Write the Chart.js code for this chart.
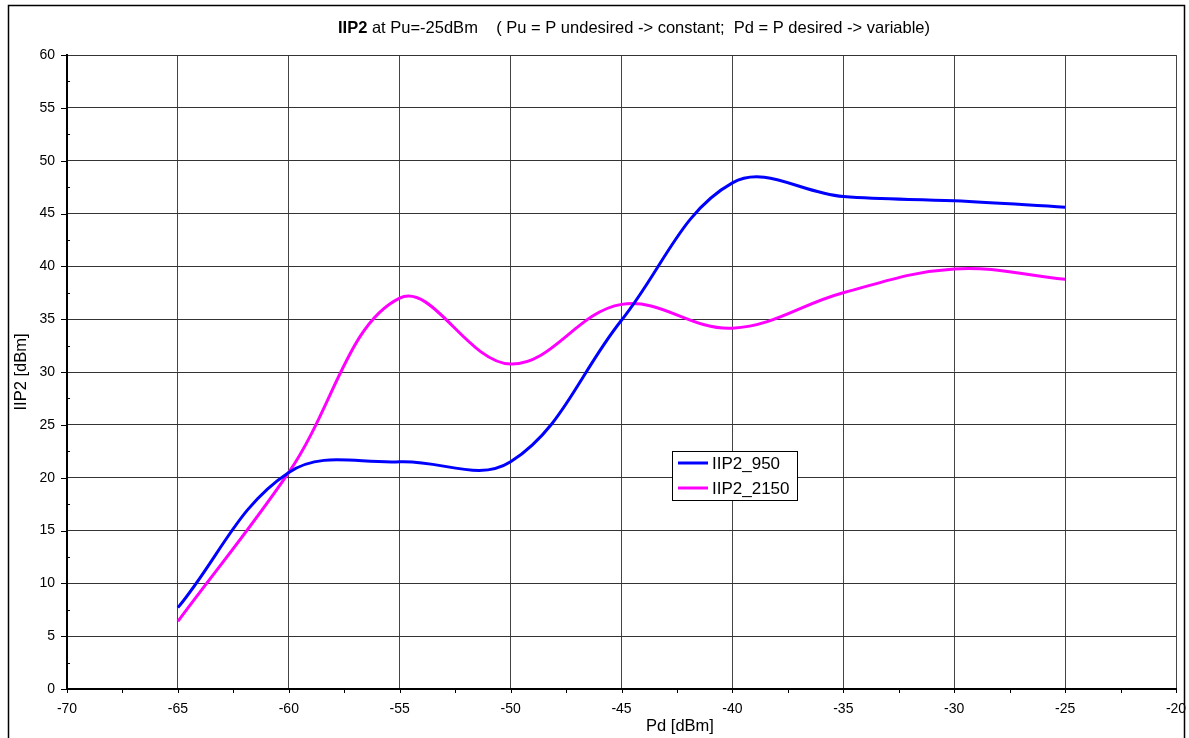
<!DOCTYPE html>
<html>
<head>
<meta charset="utf-8">
<script src="https://cdn.jsdelivr.net/npm/chart.js@4.4.1/dist/chart.umd.min.js"></script>
<style>
  html, body { margin: 0; padding: 0; background: #fff; }
  #wrap { position: relative; width: 1189px; height: 738px; }
</style>
</head>
<body>
<div id="wrap"><canvas id="c" width="1189" height="738"></canvas></div>
<script>
// ---- data ----
const pd = [-65, -60, -55, -50, -45, -40, -35, -30, -25];
const iip2_950  = [7.7, 20.5, 21.5, 21.5, 34.9, 47.9, 46.6, 46.2, 45.6];
const iip2_2150 = [6.4, 20.5, 37.0, 30.75, 36.4, 34.15, 37.5, 39.75, 38.77];
const seriesNames = ['IIP2_950', 'IIP2_2150'];
const seriesColors = ['#0000FF', '#FF00FF'];
const xTickMin = -70, xTickMax = -20, xStep = 5;
const yTickMin = 0, yTickMax = 60, yStep = 5;
const titleBold = 'IIP2';
const titleRest = ' at Pu=-25dBm    ( Pu = P undesired -> constant;  Pd = P desired -> variable)';
const xTitle = 'Pd [dBm]';
const yTitle = 'IIP2 [dBm]';

const FONT = '"Liberation Sans", Arial, sans-serif';

function toPoints(xs, ys) { return xs.map((x, i) => ({ x: x, y: ys[i] })); }

const decorPlugin = {
  id: 'decor',
  beforeDraw(chart) {
    const ctx = chart.ctx;
    ctx.save();
    ctx.fillStyle = '#fff';
    ctx.fillRect(0, 0, chart.width, chart.height);
    ctx.restore();
  },
  afterDraw(chart) {
    const ctx = chart.ctx;
    const xs = chart.scales.x, ys = chart.scales.y;
    const area = chart.chartArea;
    ctx.save();
    // minor & major tick marks
    ctx.strokeStyle = '#000';
    ctx.lineWidth = 1;
    for (let v = xTickMin; v <= xTickMax + 1e-9; v += xStep / 2) {
      const px = Math.round(xs.getPixelForValue(v)) + 0.5;
      ctx.beginPath(); ctx.moveTo(px, area.bottom); ctx.lineTo(px, area.bottom + 4); ctx.stroke();
    }
    for (let v = yTickMin; v <= yTickMax + 1e-9; v += yStep / 2) {
      const py = Math.round(ys.getPixelForValue(v)) + 0.5;
      const major = Math.abs(v / yStep - Math.round(v / yStep)) < 1e-9;
      ctx.beginPath(); ctx.moveTo(area.left - (major ? 6 : 0), py); ctx.lineTo(area.left + (major ? 0 : 3), py); ctx.stroke();
    }
    // title
    ctx.fillStyle = '#000';
    ctx.textBaseline = 'alphabetic';
    ctx.textAlign = 'left';
    ctx.font = 'bold 16.5px ' + FONT;
    const bw = ctx.measureText(titleBold).width;
    ctx.fillText(titleBold, 338, 33);
    ctx.font = '16.5px ' + FONT;
    ctx.fillText(titleRest, 338 + bw, 33);
    // axis titles
    ctx.textAlign = 'center';
    ctx.textBaseline = 'middle';
    ctx.font = '16.5px ' + FONT;
    ctx.fillText(xTitle, 680, 726);
    ctx.save();
    ctx.translate(21, 372);
    ctx.rotate(-Math.PI / 2);
    ctx.fillText(yTitle, 0, 0);
    ctx.restore();
    // legend
    const lx = 672.5, ly = 451.5, lw = 125, lh = 49;
    ctx.fillStyle = '#fff';
    ctx.fillRect(lx, ly, lw, lh);
    ctx.strokeStyle = '#000';
    ctx.lineWidth = 1;
    ctx.strokeRect(lx, ly, lw, lh);
    chart.data.datasets.forEach((ds, i) => {
      const yy = 463 + i * 25;
      ctx.strokeStyle = ds.borderColor;
      ctx.lineWidth = 3;
      ctx.beginPath(); ctx.moveTo(678, yy); ctx.lineTo(708, yy); ctx.stroke();
      ctx.fillStyle = '#000';
      ctx.textAlign = 'left';
      ctx.textBaseline = 'middle';
      ctx.font = '17px ' + FONT;
      ctx.fillText(ds.label, 712, yy + 1);
    });
    // outer frame
    ctx.strokeStyle = '#000';
    ctx.lineWidth = 1.5;
    ctx.strokeRect(8.5, 5.5, 1176, 800);
    ctx.restore();
  }
};

new Chart(document.getElementById('c'), {
  type: 'line',
  data: {
    datasets: [
      { label: seriesNames[0], data: toPoints(pd, iip2_950), borderColor: seriesColors[0], backgroundColor: seriesColors[0],
        borderWidth: 3, pointRadius: 0, tension: 0.38, fill: false },
      { label: seriesNames[1], data: toPoints(pd, iip2_2150), borderColor: seriesColors[1], backgroundColor: seriesColors[1],
        borderWidth: 3, pointRadius: 0, tension: 0.38, fill: false }
    ]
  },
  options: {
    responsive: false,
    animation: false,
    events: [],
    layout: { padding: { left: 0, top: 55, right: 13, bottom: 0 } },
    plugins: { legend: { display: false }, title: { display: false }, tooltip: { enabled: false } },
    scales: {
      x: {
        type: 'linear', min: xTickMin, max: xTickMax,
        ticks: { stepSize: xStep, color: '#000', font: { family: FONT, size: 14 }, padding: 12, maxRotation: 0, autoSkip: false },
        grid: { color: '#444', lineWidth: 1, drawTicks: false },
        border: { color: '#000', width: 2 },
        afterFit(scale) { scale.height = 49; scale.paddingLeft = 0; scale.paddingRight = 0; }
      },
      y: {
        type: 'linear', min: yTickMin, max: yTickMax,
        ticks: { stepSize: yStep, color: '#000', font: { family: FONT, size: 14 }, padding: 12 },
        grid: { color: '#333', lineWidth: 1, drawTicks: false },
        border: { color: '#000', width: 2 },
        afterFit(scale) { scale.width = 67; scale.paddingTop = 0; scale.paddingBottom = 0; }
      }
    }
  },
  plugins: [decorPlugin]
});
</script>
</body>
</html>
